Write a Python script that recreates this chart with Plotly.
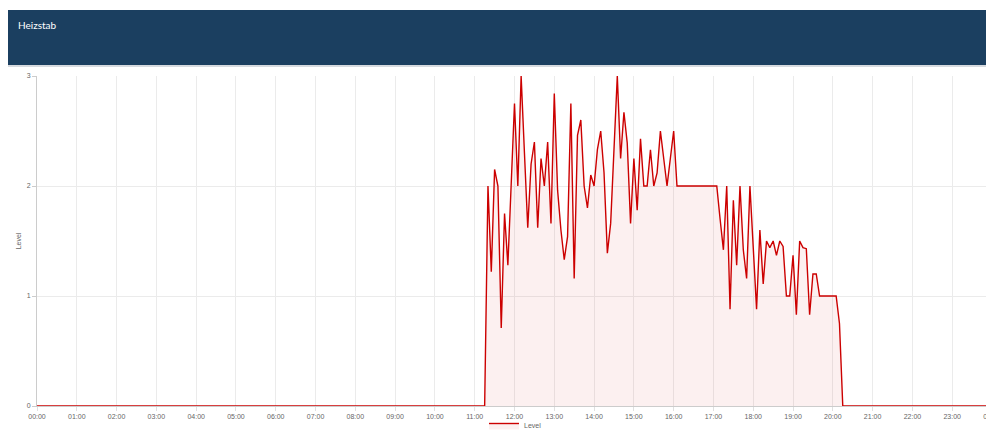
import plotly.graph_objects as go

title_text = "Heizstab"
series_name = "Level"
y_title = "Level"

times = [
    "00:00", "11:15", "11:20", "11:25", "11:30", "11:35", "11:40", "11:45", "11:50", "11:55",
    "12:00", "12:05", "12:10", "12:15", "12:20", "12:25", "12:30", "12:35", "12:40", "12:45",
    "12:50", "12:55", "13:00", "13:05", "13:10", "13:15", "13:20", "13:25", "13:30", "13:35",
    "13:40", "13:45", "13:50", "13:55", "14:00", "14:05", "14:10", "14:15", "14:20", "14:25",
    "14:30", "14:35", "14:40", "14:45", "14:50", "14:55", "15:00", "15:05", "15:10", "15:15",
    "15:20", "15:25", "15:30", "15:35", "15:40", "15:45", "15:50", "15:55", "16:00", "16:05",
    "17:05", "17:10", "17:15", "17:20", "17:25", "17:30", "17:35", "17:40", "17:45", "17:50",
    "17:55", "18:00", "18:05", "18:10", "18:15", "18:20", "18:25", "18:30", "18:35", "18:40",
    "18:45", "18:50", "18:55", "19:00", "19:05", "19:10", "19:15", "19:20", "19:25", "19:30",
    "19:35", "19:40", "20:05", "20:10", "20:15",
]
levels = [
    0, 0, 2.0, 1.22, 2.15, 2.0, 0.71, 1.75, 1.28, 2.0,
    2.75, 2.0, 3.0, 2.3, 1.62, 2.2, 2.4, 1.62, 2.25, 2.0,
    2.4, 1.66, 2.84, 1.96, 1.6, 1.33, 1.54, 2.75, 1.16, 2.46,
    2.6, 2.0, 1.8, 2.1, 2.0, 2.33, 2.5, 2.12, 1.39, 1.66,
    2.33, 3.0, 2.25, 2.67, 2.39, 1.66, 2.25, 1.78, 2.43, 2.0,
    2.0, 2.33, 2.0, 2.12, 2.5, 2.24, 2.0, 2.25, 2.5, 2.0,
    2.0, 1.7, 1.42, 2.0, 0.88, 1.87, 1.28, 2.0, 1.42, 1.16,
    2.0, 1.44, 0.88, 1.6, 1.11, 1.5, 1.44, 1.5, 1.37, 1.5,
    1.45, 1.0, 1.0, 1.37, 0.83, 1.5, 1.44, 1.43, 0.83, 1.2,
    1.2, 1.0, 1.0, 0.75, 0,
]
end_time = "2024-01-02 00:00"
day = "2024-01-01 "

x_vals = [day + t for t in times] + [end_time]
y_vals = levels + [0]

fig = go.Figure()
fig.add_trace(go.Scatter(
    x=x_vals, y=y_vals, mode="lines", name=series_name,
    line=dict(color="#cc0000", width=1.4),
    fill="tozeroy", fillcolor="rgba(204,0,0,0.06)",
    showlegend=True,
))

# page body has an 8px margin; work in screen coordinates and shift
OFF = 8
W, H = 994, 432
plot_left, plot_right, plot_top, plot_bottom = 37 - OFF, 992 - OFF, 76 - OFF, 406 - OFF
L, R, T, B = plot_left, W - plot_right, plot_top, H - plot_bottom
pw = plot_right - plot_left
ph = plot_bottom - plot_top

def px_x(sx):
    return (sx - OFF - plot_left) / pw

def px_y(sy):
    return (plot_bottom - (sy - OFF)) / ph

fig.update_layout(
    width=W, height=H,
    margin=dict(l=L, r=R, t=T, b=B, autoexpand=False),
    paper_bgcolor="white", plot_bgcolor="white",
    font=dict(family="Liberation Sans, Arial, sans-serif", size=7, color="#666666"),
    showlegend=True,
    legend=dict(orientation="h", x=px_x(484), xanchor="left", y=px_y(411), yanchor="top",
                font=dict(size=7, color="#666666"), bgcolor="rgba(0,0,0,0)",
                itemwidth=30),
    shapes=[
        dict(type="rect", xref="paper", yref="paper",
             x0=px_x(0), x1=px_x(1010), y0=px_y(65), y1=px_y(10),
             fillcolor="#1b3f60", line=dict(width=0), layer="above"),
        dict(type="line", xref="paper", yref="paper",
             x0=px_x(0), x1=px_x(1010), y0=px_y(66), y1=px_y(66),
             line=dict(color="#c9ced4", width=1.5)),
    ],
    annotations=[
        dict(text=title_text, xref="paper", yref="paper", x=px_x(16), y=px_y(25),
             xanchor="left", yanchor="middle", showarrow=False,
             font=dict(family="Lato, Open Sans, sans-serif", size=10, color="white")),
    ],
)

fig.update_xaxes(
    type="date",
    range=[day + "00:00", end_time],
    dtick=3600000, tick0=day + "00:00", tickformat="%H:%M",
    showgrid=True, gridcolor="#ebebeb", gridwidth=1,
    showline=True, linecolor="#cccccc", linewidth=1,
    ticks="outside", ticklen=4, tickcolor="#e0e0e0",
    tickfont=dict(size=7, color="#666666"),
    zeroline=False, fixedrange=True, automargin=False,
)
fig.update_yaxes(
    range=[0, 3], dtick=1,
    title=dict(text=y_title, font=dict(size=7, color="#666666"), standoff=4),
    showgrid=True, gridcolor="#ebebeb", gridwidth=1,
    showline=True, linecolor="#cccccc", linewidth=1,
    ticks="outside", ticklen=4, tickcolor="#cccccc",
    tickfont=dict(size=7, color="#666666"),
    zeroline=False, automargin=False,
)

fig.write_html("out.html")
